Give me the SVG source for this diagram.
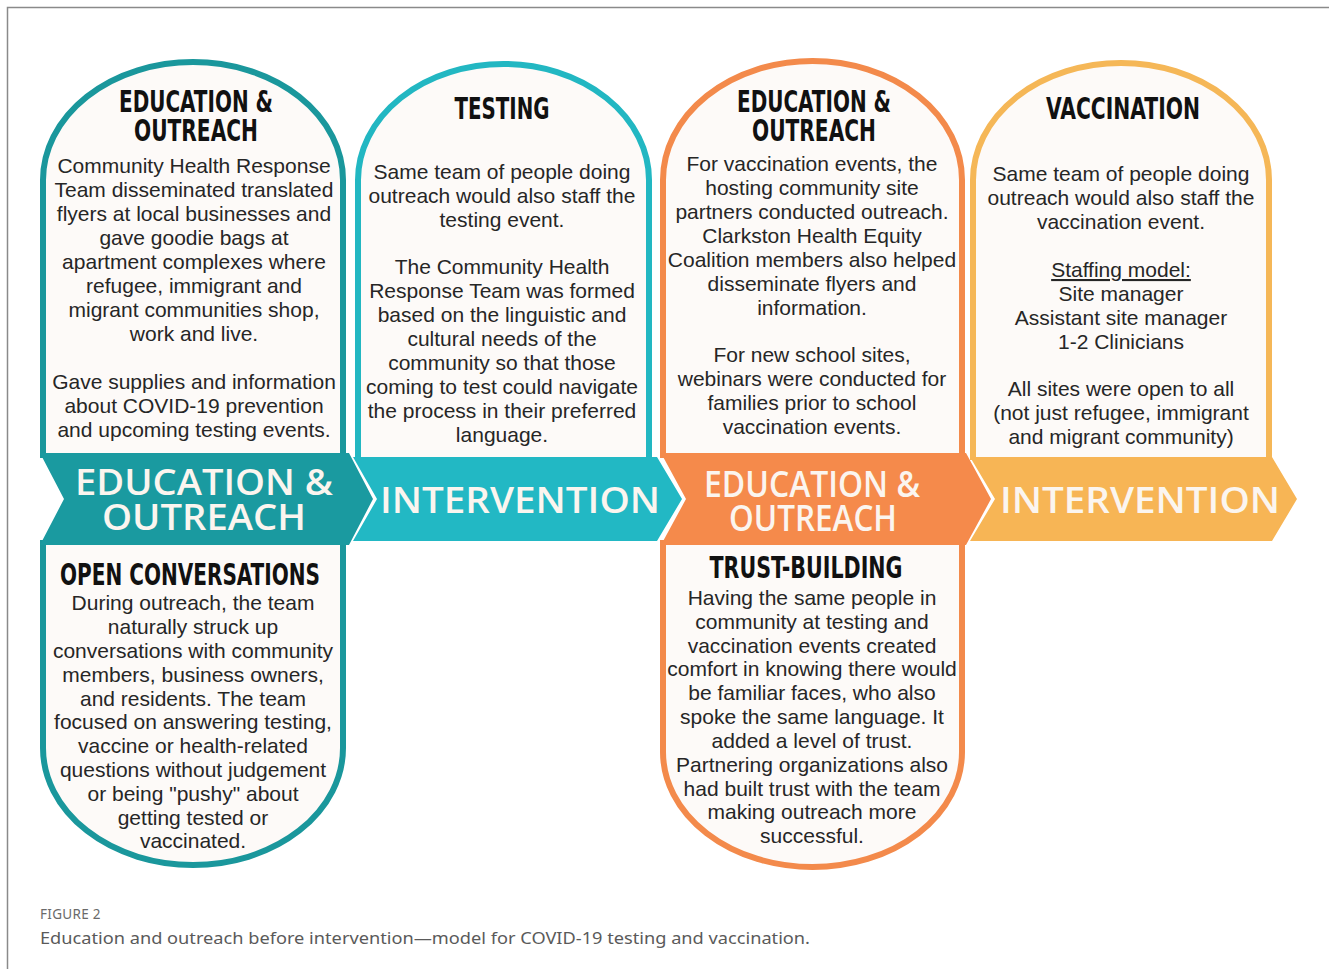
<svg xmlns="http://www.w3.org/2000/svg" width="1329" height="969" viewBox="0 0 1329 969">
<style>
.card{stroke-width:6;fill:#fdfaf8}
.body{font-family:"Liberation Sans",Arial,sans-serif;font-size:21px;fill:#262626;text-anchor:middle}
.title{font-family:"DejaVu Sans Condensed","DejaVu Sans",sans-serif;font-weight:bold;font-size:30px;fill:#111;text-anchor:middle}
.band{font-family:"Open Sans","Noto Sans",sans-serif;font-weight:600;font-size:36px;fill:#fbf5ef;text-anchor:middle}
.t1{stroke:#1a979c}.t2{stroke:#22b7c2}.o1{stroke:#f38a4b}.y1{stroke:#f5b757}
</style>
<rect width="1329" height="969" fill="#ffffff"/>
<path d="M7.5,969 L7.5,7.5 L1329,7.5" fill="none" stroke="#8a8a8a" stroke-width="1.5"/>

<g id="edu1">
<path class="card t1" d="M43,458 L43,180 A150,118 0 0 1 343,180 L343,458"/>
<path class="card t1" d="M43,540 L43,748 A150,117 0 0 0 343,748 L343,540"/>
<polygon points="40,453 349,453 373,499 349,545 40,545 64,499" fill="#1a9aa0"/>
<text class="title" x="196" y="112" textLength="154" lengthAdjust="spacingAndGlyphs">EDUCATION &amp;</text>
<text class="title" x="196" y="141" textLength="124" lengthAdjust="spacingAndGlyphs">OUTREACH</text>
<text class="body" x="194" y="173">Community Health Response</text>
<text class="body" x="194" y="197">Team disseminated translated</text>
<text class="body" x="194" y="221">flyers at local businesses and</text>
<text class="body" x="194" y="245">gave goodie bags at</text>
<text class="body" x="194" y="269">apartment complexes where</text>
<text class="body" x="194" y="293">refugee, immigrant and</text>
<text class="body" x="194" y="317">migrant communities shop,</text>
<text class="body" x="194" y="341">work and live.</text>
<text class="body" x="194" y="389">Gave supplies and information</text>
<text class="body" x="194" y="413">about COVID-19 prevention</text>
<text class="body" x="194" y="437">and upcoming testing events.</text>
<text class="band" x="204" y="495" textLength="258" lengthAdjust="spacingAndGlyphs">EDUCATION &amp;</text>
<text class="band" x="204" y="530" textLength="204" lengthAdjust="spacingAndGlyphs">OUTREACH</text>
</g>

<g id="open-conversations">
<text class="title" x="190" y="585" textLength="260" lengthAdjust="spacingAndGlyphs">OPEN CONVERSATIONS</text>
<text class="body" x="193" y="610">During outreach, the team</text>
<text class="body" x="193" y="634">naturally struck up</text>
<text class="body" x="193" y="658">conversations with community</text>
<text class="body" x="193" y="682">members, business owners,</text>
<text class="body" x="193" y="706">and residents. The team</text>
<text class="body" x="193" y="729">focused on answering testing,</text>
<text class="body" x="193" y="753">vaccine or health-related</text>
<text class="body" x="193" y="777">questions without judgement</text>
<text class="body" x="193" y="801">or being "pushy" about</text>
<text class="body" x="193" y="825">getting tested or</text>
<text class="body" x="193" y="848">vaccinated.</text>
</g>

<g id="testing">
<path class="card t2" d="M358,460 L358,180 A145.5,116 0 0 1 649,180 L649,460"/>
<polygon points="353,457 657,457 682,499 657,541 353,541 377,499" fill="#22b8c4"/>
<text class="title" x="502" y="119" textLength="95" lengthAdjust="spacingAndGlyphs">TESTING</text>
<text class="body" x="502" y="179">Same team of people doing</text>
<text class="body" x="502" y="203">outreach would also staff the</text>
<text class="body" x="502" y="227">testing event.</text>
<text class="body" x="502" y="274">The Community Health</text>
<text class="body" x="502" y="298">Response Team was formed</text>
<text class="body" x="502" y="322">based on the linguistic and</text>
<text class="body" x="502" y="346">cultural needs of the</text>
<text class="body" x="502" y="370">community so that those</text>
<text class="body" x="502" y="394">coming to test could navigate</text>
<text class="body" x="502" y="418">the process in their preferred</text>
<text class="body" x="502" y="442">language.</text>
<text class="band" x="520" y="513" textLength="280" lengthAdjust="spacingAndGlyphs">INTERVENTION</text>
</g>

<g id="edu2">
<path class="card o1" d="M663,458 L663,180 A149.5,119 0 0 1 962,180 L962,458"/>
<path class="card o1" d="M663,540 L663,752 A149.5,115 0 0 0 962,752 L962,540"/>
<polygon points="661,453 966,453 991,499 966,545 661,545 686,499" fill="#f58a4b"/>
<text class="title" x="814" y="112" textLength="154" lengthAdjust="spacingAndGlyphs">EDUCATION &amp;</text>
<text class="title" x="814" y="141" textLength="124" lengthAdjust="spacingAndGlyphs">OUTREACH</text>
<text class="body" x="812" y="171">For vaccination events, the</text>
<text class="body" x="812" y="195">hosting community site</text>
<text class="body" x="812" y="219">partners conducted outreach.</text>
<text class="body" x="812" y="243">Clarkston Health Equity</text>
<text class="body" x="812" y="267">Coalition members also helped</text>
<text class="body" x="812" y="291">disseminate flyers and</text>
<text class="body" x="812" y="315">information.</text>
<text class="body" x="812" y="362">For new school sites,</text>
<text class="body" x="812" y="386">webinars were conducted for</text>
<text class="body" x="812" y="410">families prior to school</text>
<text class="body" x="812" y="434">vaccination events.</text>
<text class="band" x="812" y="497" textLength="216" lengthAdjust="spacingAndGlyphs">EDUCATION &amp;</text>
<text class="band" x="813" y="531" textLength="168" lengthAdjust="spacingAndGlyphs">OUTREACH</text>
</g>

<g id="trust-building">
<text class="title" x="806" y="578" textLength="193" lengthAdjust="spacingAndGlyphs">TRUST-BUILDING</text>
<text class="body" x="812" y="605">Having the same people in</text>
<text class="body" x="812" y="629">community at testing and</text>
<text class="body" x="812" y="653">vaccination events created</text>
<text class="body" x="812" y="676">comfort in knowing there would</text>
<text class="body" x="812" y="700">be familiar faces, who also</text>
<text class="body" x="812" y="724">spoke the same language. It</text>
<text class="body" x="812" y="748">added a level of trust.</text>
<text class="body" x="812" y="772">Partnering organizations also</text>
<text class="body" x="812" y="796">had built trust with the team</text>
<text class="body" x="812" y="819">making outreach more</text>
<text class="body" x="812" y="843">successful.</text>
</g>

<g id="vaccination">
<path class="card y1" d="M973,460 L973,180 A148,117 0 0 1 1269,180 L1269,460"/>
<polygon points="970,457 1272,457 1297,499 1272,541 970,541 995,499" fill="#f7b555"/>
<text class="title" x="1123" y="119" textLength="154" lengthAdjust="spacingAndGlyphs">VACCINATION</text>
<text class="body" x="1121" y="181">Same team of people doing</text>
<text class="body" x="1121" y="205">outreach would also staff the</text>
<text class="body" x="1121" y="229">vaccination event.</text>
<text class="body" x="1121" y="277" text-decoration="underline">Staffing model:</text>
<text class="body" x="1121" y="301">Site manager</text>
<text class="body" x="1121" y="325">Assistant site manager</text>
<text class="body" x="1121" y="349">1-2 Clinicians</text>
<text class="body" x="1121" y="396">All sites were open to all</text>
<text class="body" x="1121" y="420">(not just refugee, immigrant</text>
<text class="body" x="1121" y="444">and migrant community)</text>
<text class="band" x="1140" y="513" textLength="280" lengthAdjust="spacingAndGlyphs">INTERVENTION</text>
</g>

<g id="connectors"></g>

<g id="caption">
<text x="40" y="919" font-family="'Noto Sans',sans-serif" font-size="13.5" fill="#6a6a6a" letter-spacing="0.3">FIGURE 2</text>
<text x="40" y="944" font-family="'Noto Sans',sans-serif" font-size="17" fill="#5a5a5a" textLength="770" lengthAdjust="spacingAndGlyphs">Education and outreach before intervention—model for COVID-19 testing and vaccination.</text>
</g>
</svg>
